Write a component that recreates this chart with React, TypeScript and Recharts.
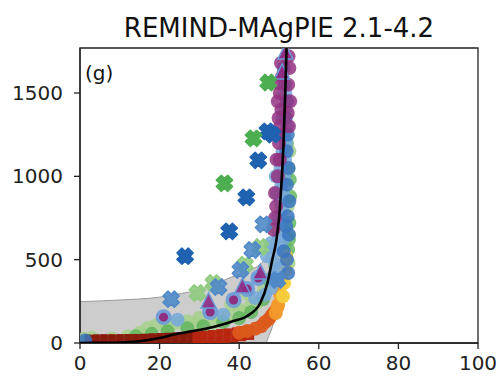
import React from "react";
import {
  ComposedChart,
  XAxis,
  YAxis,
  Area,
  Line,
  Scatter,
  ReferenceArea,
} from "recharts";

// ---- data ----
const xTicks = [0, 20, 40, 60, 80, 100];
const yTicks = [0, 500, 1000, 1500];

// fitted curve (black)
const fitX = [0, 5, 10, 14, 20, 25, 28, 33.5, 38, 42, 45.3, 47.1, 48.3, 49.3, 50, 50.6, 51.1, 51.5, 51.9];
const fitY = [0, 1, 3, 8, 30, 58, 70, 96, 128, 162, 240, 360, 498, 610, 750, 950, 1180, 1450, 1770];

// grey uncertainty band
const bandX = [0, 10, 20, 25, 30, 34, 38, 42, 46, 46.6, 47.5, 48.6, 49.5, 50.3, 51, 51.5, 52];
const bandLow = [0, 0, 0, 0, 0, 0, 0, 0, 0, 0, 45, 120, 230, 330, 480, 650, 850];
const bandHigh = [248, 258, 275, 295, 320, 355, 395, 430, 488, 505, 560, 680, 900, 1250, 1770, 1770, 1770];

// scatter groups [x, y]
const lightGreenPts: [number, number][] = [
  [1, 25], [3, 32], [8, 28], [12, 40], [15, 62], [17, 90], [19, 105], [21.8, 98], [25.2, 120], [29.4, 120],
  [33.5, 120], [36.9, 158], [41.1, 186], [44.5, 240], [46.2, 318], [47.9, 576], [50.4, 678], [49, 460],
  [51.5, 1000], [52.5, 650], [52.2, 820], [38, 230], [42, 300], [30, 150], [23, 110], [27, 130],
  [35, 140], [40, 200], [43, 230], [48.5, 700], [52.6, 1150], [52.4, 480],
];
const greenPts: [number, number][] = [
  [2, 12], [14, 40], [18, 55], [22, 70], [27, 88], [31, 100], [36, 125], [40, 150], [43, 185], [46, 262],
  [47.5, 380], [52.3, 560], [52.6, 720], [52.8, 880], [52.4, 1050], [52, 1200], [52.7, 980], [52.5, 620],
];
const darkRedPts: [number, number][] = [
  [3, 8], [5, 10], [7, 10], [9, 10], [11, 11], [13, 12], [15, 12], [17, 14], [19, 16], [21, 18], [23, 20],
  [25, 22], [27, 24], [29, 26],
];
const redPts: [number, number][] = [
  [30, 28], [32, 32], [34, 36], [36, 42], [38, 46], [40, 52], [42, 60],
];
const orangeRedPts: [number, number][] = [
  [40, 62], [42, 72], [44, 85], [45.5, 100], [46.5, 125], [47.5, 145], [48.3, 170], [49, 190],
];
const orangePts: [number, number][] = [
  [49.2, 180], [49.8, 230], [50.3, 290], [50.6, 350], [49.6, 216],
];
const yellowPts: [number, number][] = [
  [51, 280], [51.3, 360], [51.6, 440], [51.8, 520],
];
const lightBluePts: [number, number][] = [
  [44, 270], [46.5, 290], [48, 330], [48.5, 400], [49, 480], [49.5, 560], [50, 640], [50.5, 720],
  [50.8, 800], [51, 900], [51.3, 1000], [51.5, 1100], [51.8, 1200], [52, 1300], [51.5, 1400],
  [51.6, 1500], [51, 620], [50.2, 450], [49.5, 900], [49.2, 1000], [49.8, 760], [50.3, 850],
  [50.6, 950], [50.4, 1050], [50.9, 1150], [51.2, 1250], [50.8, 1350], [24.5, 140], [36, 170],
  [47, 520], [48, 600],
];
const bluePts: [number, number][] = [
  [1.3, 15], [52.3, 420], [52, 500], [52.5, 650], [52.2, 760], [52.6, 850], [52, 950], [52.4, 1050],
  [51.9, 1150], [52.2, 1250], [51.7, 1350], [52, 1450], [51.5, 1550], [51.2, 1650], [49.6, 378],
  [51.8, 700], [51.2, 550],
];
const purplePts: [number, number][] = [
  [49.3, 820], [49, 900], [49.7, 1000], [49.4, 1100], [50, 1200], [50.3, 1300], [50.6, 1400],
  [50.2, 1500], [50.8, 1600], [50.5, 1680], [52.5, 1300], [52.8, 1450], [52.3, 1550], [52.6, 1650],
  [49.8, 1250], [50.2, 1100], [49.9, 1350], [49.7, 1450], [50, 1560], [52.2, 1380], [52.4, 1720],
  [49, 750], [48.6, 680],
];
const ringedPts: [number, number][] = [
  [21, 155], [32.7, 186], [38.6, 258], [42, 324], [44.8, 390],
];
const trianglePts: [number, number][] = [
  [32.3, 246], [40.8, 336], [45.3, 420], [51.6, 1740], [50.8, 1620],
];
const lightGreenX: [number, number][] = [
  [29.5, 300], [33.5, 360], [41.5, 470], [45.3, 576],
];
const lightBlueX: [number, number][] = [
  [22.9, 263], [34.8, 336], [40.3, 438], [43.3, 558], [46.1, 712], [49.6, 378],
];
const blueX: [number, number][] = [
  [26.4, 521], [37.5, 670], [41.8, 874], [44.8, 1096], [47.1, 1270], [48.4, 1250],
];
const greenX: [number, number][] = [
  [36.3, 958], [43.6, 1228], [47.3, 1563],
];

// ---- helpers ----
const toPts = (arr: [number, number][]) => arr.map(([x, y]) => ({ x, y }));
const fitData = fitX.map((x, i) => ({ x, y: fitY[i] }));
const bandData = bandX.map((x, i) => ({ x, band: [bandLow[i], bandHigh[i]] }));

const FONT = "'DejaVu Sans', sans-serif";

type Kind = "circle" | "square" | "tri" | "cross" | "ring";
function mk(kind: Kind, fill: string, opacity = 0.85, r = 7) {
  return (p: any) => {
    const { cx, cy } = p;
    if (cx == null || cy == null) return <g />;
    if (kind === "circle")
      return <circle cx={cx} cy={cy} r={r} fill={fill} fillOpacity={opacity} />;
    if (kind === "square")
      return <rect x={cx - r} y={cy - r} width={2 * r} height={2 * r} fill={fill} fillOpacity={opacity} />;
    if (kind === "ring")
      return (
        <g>
          <circle cx={cx} cy={cy} r={r + 1} fill="#6b9bd8" fillOpacity={0.9} />
          <circle cx={cx} cy={cy} r={r - 2.5} fill={fill} fillOpacity={0.95} />
        </g>
      );
    if (kind === "tri")
      return (
        <polygon
          points={`${cx},${cy - 9} ${cx - 7.5},${cy + 6} ${cx + 7.5},${cy + 6}`}
          fill={fill}
          fillOpacity={opacity}
          stroke="#6b9bd8"
          strokeWidth={1.5}
        />
      );
    const L = 8, a = 3.5;
    const pts = [
      [-a, -L], [a, -L], [a, -a], [L, -a], [L, a], [a, a], [a, L], [-a, L], [-a, a], [-L, a], [-L, -a], [-a, -a],
    ]
      .map(([u, v]) => `${u},${v}`)
      .join(" ");
    return (
      <polygon
        points={pts}
        transform={`translate(${cx},${cy}) rotate(45)`}
        fill={fill}
        fillOpacity={opacity}
        strokeLinejoin="round"
        stroke={fill}
        strokeWidth={1.5}
      />
    );
  };
}

const tickStyle = { fill: "#222", fontSize: 20, fontFamily: FONT };

export default function App() {
  return (
    <div style={{ position: "absolute", left: 0, top: 0, width: 500, height: 378, background: "#fff" }}>
      <div
        style={{
          position: "absolute",
          left: 79,
          top: 15,
          width: 400,
          textAlign: "center",
          fontFamily: FONT,
          fontSize: 26,
          lineHeight: 1,
          color: "#111",
        }}
      >
        REMIND-MAgPIE 2.1-4.2
      </div>
      <ComposedChart
        width={500}
        height={378}
        margin={{ top: 48, right: 22, bottom: 0, left: 0 }}
      >
        <XAxis
          type="number"
          dataKey="x"
          domain={[0, 100]}
          ticks={xTicks}
          allowDataOverflow
          height={35}
          tick={tickStyle}
          tickSize={6}
          tickMargin={7}
          axisLine={{ stroke: "#222", strokeWidth: 1.3 }}
          tickLine={{ stroke: "#222", strokeWidth: 1.3 }}
        />
        <YAxis
          type="number"
          dataKey="y"
          domain={[0, 1770]}
          ticks={yTicks}
          allowDataOverflow
          width={80}
          tick={tickStyle}
          tickSize={6}
          tickMargin={11}
          axisLine={{ stroke: "#222", strokeWidth: 1.3 }}
          tickLine={{ stroke: "#222", strokeWidth: 1.3 }}
        />
        <Area
          data={bandData}
          dataKey="band"
          type="monotone"
          fill="#b8b8b8"
          fillOpacity={0.7}
          stroke="#9a9a9a"
          strokeWidth={1}
          isAnimationActive={false}
          dot={false}
          activeDot={false}
        />
        <Scatter data={toPts(lightGreenPts)} shape={mk("circle", "#a7d08c", 0.85)} isAnimationActive={false} />
        <Scatter data={toPts(greenPts)} shape={mk("circle", "#5db35a", 0.8)} isAnimationActive={false} />
        <Scatter data={toPts(darkRedPts)} shape={mk("square", "#8a1a0c", 0.95)} isAnimationActive={false} />
        <Scatter data={toPts(redPts)} shape={mk("square", "#b8260f", 0.95)} isAnimationActive={false} />
        <Scatter data={toPts(orangeRedPts)} shape={mk("circle", "#dc5a1c", 0.95)} isAnimationActive={false} />
        <Scatter data={toPts(orangePts)} shape={mk("circle", "#f29a2c", 0.95)} isAnimationActive={false} />
        <Scatter data={toPts(yellowPts)} shape={mk("circle", "#f4cd3a", 0.95)} isAnimationActive={false} />
        <Scatter data={toPts(lightBluePts)} shape={mk("circle", "#74a8dc", 0.85)} isAnimationActive={false} />
        <Scatter data={toPts(bluePts)} shape={mk("circle", "#3a74bf", 0.85)} isAnimationActive={false} />
        <Scatter data={toPts(purplePts)} shape={mk("circle", "#93337f", 0.85)} isAnimationActive={false} />
        <Scatter data={toPts(ringedPts)} shape={mk("ring", "#8e2a7c", 0.95)} isAnimationActive={false} />
        <Scatter data={toPts(trianglePts)} shape={mk("tri", "#8e2a84", 0.9)} isAnimationActive={false} />
        <Scatter data={toPts(lightGreenX)} shape={mk("cross", "#8fcb7e", 0.9)} isAnimationActive={false} />
        <Scatter data={toPts(lightBlueX)} shape={mk("cross", "#5089c8", 0.9)} isAnimationActive={false} />
        <Scatter data={toPts(blueX)} shape={mk("cross", "#1f62b0", 1)} isAnimationActive={false} />
        <Scatter data={toPts(greenX)} shape={mk("cross", "#4cae50", 1)} isAnimationActive={false} />
        <Line
          data={fitData}
          dataKey="y"
          type="monotone"
          stroke="#000"
          strokeWidth={2.6}
          dot={false}
          activeDot={false}
          isAnimationActive={false}
          {...({ zIndex: 700 } as any)}
        />
        <ReferenceArea x1={0} x2={100} y1={0} y2={1770} fill="none" stroke="#222" strokeWidth={1.3} ifOverflow="visible" />
      </ComposedChart>
      <div
        style={{
          position: "absolute",
          left: 85,
          top: 63,
          fontFamily: FONT,
          fontSize: 20,
          lineHeight: 1,
          color: "#111",
        }}
      >
        (g)
      </div>
    </div>
  );
}
